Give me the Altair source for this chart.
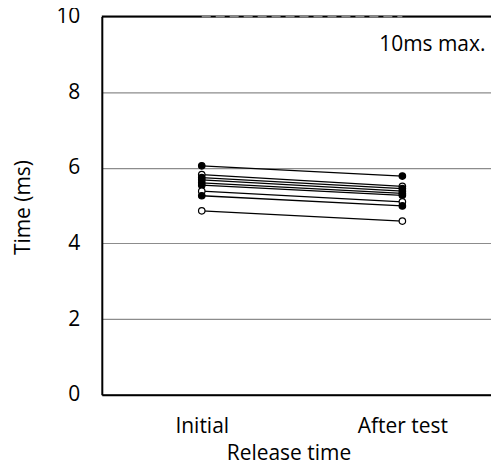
import altair as alt
import pandas as pd

stages = ["Initial", "After test"]
series = ["s1", "s2", "s3", "s4", "s5", "s6", "s7", "s8", "s9"]
initial = [6.05, 5.82, 5.74, 5.68, 5.60, 5.54, 5.38, 5.26, 4.86]
after = [5.78, 5.51, 5.45, 5.38, 5.32, 5.27, 5.10, 4.99, 4.59]
filled = [True, False, True, True, True, True, False, True, False]
max_values = [10, 10]
note = "10ms max."

rows = []
for s, a, b, f in zip(series, initial, after, filled):
    rows.append({"series": s, "stage": stages[0], "value": a, "filled": "yes" if f else "no"})
    rows.append({"series": s, "stage": stages[1], "value": b, "filled": "yes" if f else "no"})
df = pd.DataFrame(rows)
max_df = pd.DataFrame({"stage": stages, "value": max_values})

W, H = 390, 379
FONT = "Open Sans"
FS = 21

xscale = alt.Scale(type="point", domain=stages, padding=0.47, align=0.53)
yscale = alt.Scale(domain=[0, 10])

xenc = alt.X(
    "stage:N",
    scale=xscale,
    sort=stages,
    axis=alt.Axis(
        title="Release time", labelAngle=0, ticks=False, grid=False,
        domainColor="black", domainWidth=2, labelPadding=38,
        labelBaseline="alphabetic",
        labelFontSize=FS, titleFontSize=FS, labelFont=FONT, titleFont=FONT,
        labelColor="black", titleColor="black", titleFontWeight="normal",
        titleX=187, titleY=65, titleAlign="center", titleBaseline="alphabetic",
    ),
)
yenc = alt.Y(
    "value:Q",
    scale=yscale,
    axis=alt.Axis(
        title="Time (ms)", values=[0, 2, 4, 6, 8, 10], ticks=False,
        grid=True, gridColor="#8c8c8c", gridWidth=1.2,
        domainColor="black", domainWidth=2, labelPadding=22,
        labelFontSize=FS, titleFontSize=FS, labelFont=FONT, titleFont=FONT,
        labelColor="black", titleColor="black", titleFontWeight="normal",
        titleX=-78, titleY=191, titleAlign="center", titleBaseline="middle",
    ),
)

base = alt.Chart(df)

lines = base.mark_line(color="black", strokeWidth=1.3).encode(
    x=xenc, y=yenc, detail="series:N"
)
points = base.mark_point(filled=False, shape="circle", size=42, stroke="black", strokeWidth=1.2, opacity=1).encode(
    x=alt.X("stage:N", scale=xscale, sort=stages),
    y=alt.Y("value:Q", scale=yscale),
    fill=alt.Fill("filled:N", scale=alt.Scale(domain=["yes", "no"], range=["black", "white"]), legend=None),
)

top_border = alt.Chart(max_df).mark_rule(color="black", strokeWidth=2).encode(
    y=alt.Y("max(value):Q", scale=yscale), x=alt.value(0), x2=alt.value(W)
)
max_line = alt.Chart(max_df).mark_line(color="#8a8a8a", strokeWidth=2, strokeDash=[9, 5]).encode(
    x=alt.X("stage:N", scale=xscale, sort=stages),
    y=alt.Y("value:Q", scale=yscale),
)
text = alt.Chart(pd.DataFrame({"t": [note]})).mark_text(
    align="left", baseline="middle", fontSize=FS, font=FONT, color="black"
).encode(x=alt.value(278), y=alt.value(29), text="t:N")

chart = alt.layer(lines, points, top_border, max_line, text).properties(
    width=W, height=H,
    autosize=alt.AutoSizeParams(type="none"),
    padding={"left": 94, "top": 8, "right": 0, "bottom": 70},
).configure_view(stroke=None).configure(background="white")

chart.save("out.html", embed_options={"renderer": "svg", "actions": False})
